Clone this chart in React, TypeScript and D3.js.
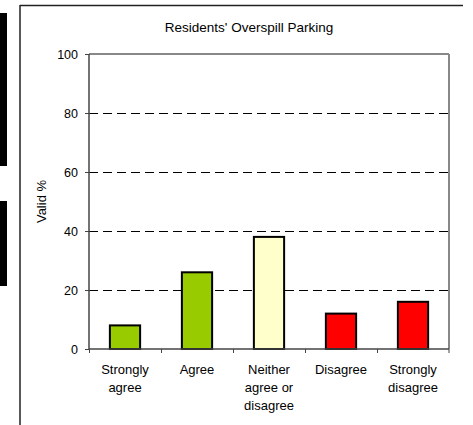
import React from "react";
import * as d3 from "d3";

const categories = ["Strongly agree", "Agree", "Neither agree or disagree", "Disagree", "Strongly disagree"];
const categoryLines = [["Strongly", "agree"], ["Agree"], ["Neither", "agree or", "disagree"], ["Disagree"], ["Strongly", "disagree"]];
const values = [8, 26, 38, 12, 16];
const colors = ["#99CC00", "#99CC00", "#FFFFCC", "#FF0000", "#FF0000"];
const yTicks = [0, 20, 40, 60, 80, 100];
const title = "Residents' Overspill Parking";
const yLabel = "Valid %";

export default function App() {
  const W = 473, H = 425;
  const left = 89, right = 449, top = 54, bottom = 349;
  const x = d3.scaleBand<string>().domain(categories).range([left, right]).paddingInner(0.58).paddingOuter(0.29);
  const xb = d3.scaleBand<string>().domain(categories).range([left, right]);
  const y = d3.scaleLinear().domain([0, 100]).range([bottom, top]);
  const font = "'Liberation Sans', Arial, sans-serif";
  return (
    <svg width={W} height={H} style={{ position: "absolute", left: 0, top: 0, background: "#fff" }} fontFamily={font}>
      <rect x={0} y={13} width={7} height={153} fill="#000" />
      <rect x={0} y={201} width={7} height={85} fill="#000" />
      <line x1={20} y1={5} x2={20} y2={425} stroke="#222" strokeWidth={1.5} />
      <line x1={20} y1={5.5} x2={463} y2={5.5} stroke="#222" strokeWidth={1.5} />
      <text x={249} y={32} textAnchor="middle" fontSize={13.5}>{title}</text>
      {yTicks.filter(t => t > 0 && t < 100).map(t => (
        <line key={"g" + t} x1={left} x2={right} y1={Math.round(y(t)) + 0.5} y2={Math.round(y(t)) + 0.5} stroke="#000" strokeWidth={1} strokeDasharray="9,5" />
      ))}
      <line x1={left} x2={right} y1={top} y2={top} stroke="#888" strokeWidth={2} />
      <line x1={right} x2={right} y1={top} y2={bottom} stroke="#888" strokeWidth={2} />
      {categories.map((c, i) => (
        <rect key={c} x={x(c)!} y={y(values[i])} width={x.bandwidth()} height={y(0) - y(values[i])} fill={colors[i]} stroke="#000" strokeWidth={2} />
      ))}
      <line x1={left} x2={left} y1={top} y2={bottom} stroke="#444" strokeWidth={1.5} />
      <line x1={left} x2={right} y1={bottom} y2={bottom} stroke="#444" strokeWidth={1.5} />
      {yTicks.map(t => (
        <g key={"t" + t}>
          <line x1={left - 4} x2={left} y1={Math.round(y(t)) + 0.5} y2={Math.round(y(t)) + 0.5} stroke="#444" />
          <text x={left - 11} y={y(t) + 5} textAnchor="end" fontSize={12.5}>{t}</text>
        </g>
      ))}
      {categories.map((c, i) => (
        <line key={"xt" + i} x1={Math.round(xb(c)!) + 0.5} x2={Math.round(xb(c)!) + 0.5} y1={bottom} y2={bottom + 4} stroke="#444" />
      ))}
      <line x1={right} x2={right} y1={bottom} y2={bottom + 4} stroke="#444" />
      {categories.map((c, i) => (
        <text key={"xl" + i} x={xb(c)! + xb.bandwidth() / 2} y={374} textAnchor="middle" fontSize={13}>
          {categoryLines[i].map((l, j) => (
            <tspan key={j} x={xb(c)! + xb.bandwidth() / 2} dy={j === 0 ? 0 : 18}>{l}</tspan>
          ))}
        </text>
      ))}
      <text transform={`translate(46,${(top + bottom) / 2}) rotate(-90)`} textAnchor="middle" fontSize={13}>{yLabel}</text>
    </svg>
  );
}
